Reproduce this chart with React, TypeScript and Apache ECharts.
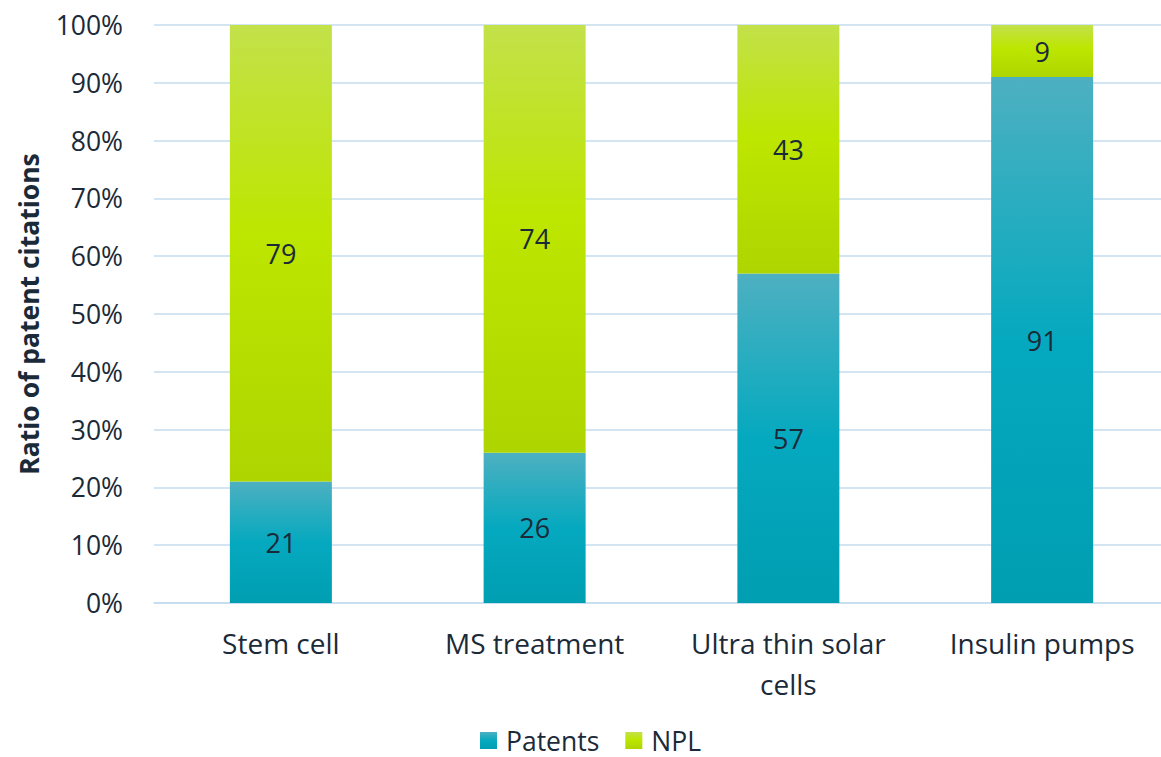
import React, { useEffect, useRef } from "react";
import * as echarts from "echarts";

const categories = ["Stem cell", "MS treatment", "Ultra thin solar\ncells", "Insulin pumps"];
const patents = [21, 26, 57, 91];
const npl = [79, 74, 43, 9];
const yTicks = { min: 0, max: 100, interval: 10 };

const TEXT = "#1b2a38";
const FONT = "'Open Sans', sans-serif";

export default function App() {
  const ref = useRef<HTMLDivElement>(null);
  useEffect(() => {
    if (!ref.current) return;
    const chart = echarts.init(ref.current, null, { renderer: "svg" });
    const teal = new echarts.graphic.LinearGradient(0, 0, 0, 1, [
      { offset: 0, color: "#4db0c1" },
      { offset: 0.5, color: "#05a9bf" },
      { offset: 1, color: "#009eb1" },
    ]);
    const green = new echarts.graphic.LinearGradient(0, 0, 0, 1, [
      { offset: 0, color: "#c3e14a" },
      { offset: 0.45, color: "#bde600" },
      { offset: 1, color: "#aed500" },
    ]);
    const label = {
      show: true,
      position: "inside",
      color: TEXT,
      fontFamily: FONT,
      fontSize: 27,
    };
    chart.setOption({
      animation: false,
      grid: { left: 154, right: 0, top: 25, bottom: 154, containLabel: false },
      legend: {
        left: 475,
        top: 722,
        padding: 5,
        itemWidth: 17,
        itemHeight: 17,
        itemGap: 26,
        icon: "rect",
        textStyle: {
          color: TEXT,
          fontFamily: FONT,
          fontSize: 26.5,
          padding: [0, 0, 0, 4],
        },
        data: ["Patents", "NPL"],
      },
      xAxis: {
        type: "category",
        data: categories,
        axisLine: { lineStyle: { color: "#c5dcef", width: 1.5 } },
        axisTick: { show: false },
        axisLabel: {
          interval: 0,
          color: TEXT,
          fontFamily: FONT,
          fontSize: 28,
          lineHeight: 41,
          margin: 19,
        },
      },
      yAxis: {
        type: "value",
        min: yTicks.min,
        max: yTicks.max,
        interval: yTicks.interval,
        name: "Ratio of patent citations",
        nameLocation: "middle",
        nameRotate: 90,
        nameGap: 112,
        nameTextStyle: { color: TEXT, fontFamily: FONT, fontSize: 26.5, fontWeight: "bold" },
        axisLine: { show: false },
        axisTick: { show: false },
        splitLine: { lineStyle: { color: "#c5dcef", width: 1.5 } },
        axisLabel: {
          formatter: "{value}%",
          color: TEXT,
          fontFamily: FONT,
          fontSize: 26.5,
          margin: 31,
        },
      },
      series: [
        {
          name: "Patents",
          type: "bar",
          stack: "total",
          barWidth: 102,
          data: patents,
          itemStyle: { color: teal },
          label,
        },
        {
          name: "NPL",
          type: "bar",
          stack: "total",
          barWidth: 102,
          data: npl,
          itemStyle: { color: green },
          label,
        },
      ],
    });
    return () => chart.dispose();
  }, []);
  return (
    <div
      style={{ position: "fixed", left: 0, top: 0, width: 1161, height: 757, overflow: "hidden", background: "#fff" }}
    >
      <div ref={ref} style={{ width: 1169, height: 757 }} />
    </div>
  );
}
